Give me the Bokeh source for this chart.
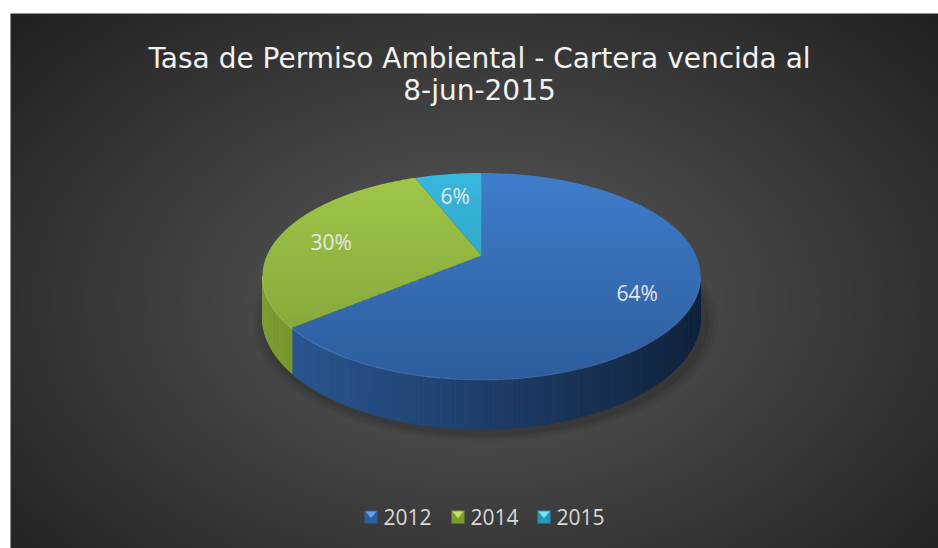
import numpy as np
from bokeh.plotting import figure
from bokeh.models import Range1d
from bokeh.core.properties import value
from bokeh.embed import file_html
from bokeh.resources import INLINE

# ---------------- data ----------------
title_lines = ["Tasa de Permiso Ambiental - Cartera vencida al", "8-jun-2015"]
categories = ["2012", "2014", "2015"]
shares = [64, 30, 6]
pct_labels = ["64%", "30%", "6%"]

# ---------------- styles ----------------
top_light = ["#3f7dcb", "#a0c749", "#37b8dd"]
top_dark = ["#2c5d9d", "#7e9f35", "#2790ae"]
side_light = ["#2c5a97", "#7f9e33", "#2a8fae"]
side_dark = ["#11233d", "#3e5216", "#123f4c"]
edge_hl = ["#5b93dc", "#b5d86a", "#6fd0ec"]
legend_light = ["#6aa2ea", "#c4e36e", "#7fe0f8"]
legend_dark = ["#2d5f9f", "#7c9c32", "#2897b6"]

W, H = 938, 548
p = figure(width=W, height=H, x_range=Range1d(0, W), y_range=Range1d(H, 0),
           x_axis_type=None, y_axis_type=None, output_backend="svg",
           toolbar_location=None, min_border=0)
p.outline_line_color = None
p.background_fill_color = "white"
p.border_fill_color = "white"


def hex2rgb(h):
    h = h.lstrip("#")
    return np.array([int(h[i:i + 2], 16) for i in (0, 2, 4)], dtype=float)


def mix(c1, c2, t):
    t = min(max(t, 0.0), 1.0)
    c = hex2rgb(c1) * (1 - t) + hex2rgb(c2) * t
    return "#%02x%02x%02x" % tuple(int(round(v)) for v in c)


# ---------------- background radial gradient ----------------
bx0, by0 = 10, 13
bw, bh = W - bx0, H - by0
yy, xx = np.mgrid[0:bh, 0:bw]
gcx, gcy = 478 - bx0, 300 - by0
r = np.sqrt(((xx - gcx) / 620.0) ** 2 + ((yy - gcy) / 410.0) ** 2)
v = np.clip(92 - 58 * r, 30, 95).astype(np.uint8)
img = np.empty((bh, bw), dtype=np.uint32)
view = img.view(dtype=np.uint8).reshape((bh, bw, 4))
view[..., 0] = v
view[..., 1] = v
view[..., 2] = v
view[..., 3] = 255
p.image_rgba(image=[img], x=bx0, y=by0, dw=bw, dh=bh)

# ---------------- 3D pie geometry ----------------
CX, CY = 481.0, 255.0
A, B, PC, HGT = 214.6, 99.0, 0.2, 40.0


def proj(theta_deg, rr=1.0, z=0.0):
    t = np.radians(theta_deg)
    X = rr * np.sin(t)
    D = -rr * np.cos(t)
    k = 1.0 / (1.0 - PC * D)
    return CX + A * X * k, CY + (B * D + z) * k


total = float(sum(shares))
starts, ends = [], []
acc = 0.0
for s in shares:
    starts.append(acc / total * 360.0)
    acc += s
    ends.append(acc / total * 360.0)

# visible front arc (silhouette at cos = -PC)
th_right = np.degrees(np.arccos(-PC))
th_left = 360.0 - th_right
x_min = proj(th_left)[0]
x_max = proj(th_right)[0]

# shadow
for sc, a in [(1.06, 0.05), (1.04, 0.07), (1.02, 0.09)]:
    ths = np.linspace(0, 360, 181)
    xs, ys = [], []
    for th in ths:
        x0, y0 = proj(th, 1.0, HGT)
        xs.append(CX + (x0 - CX) * sc + 4)
        ys.append(CY + HGT + (y0 - CY - HGT) * sc + 4)
    p.patch(xs, ys, fill_color="black", fill_alpha=a, line_color=None)

# side walls
side_xs, side_ys, side_cols = [], [], []
for i in range(len(shares)):
    a0 = max(starts[i], th_right)
    a1 = min(ends[i], th_left)
    if a1 <= a0:
        continue
    n = max(2, int((a1 - a0) / 1.0) + 1)
    ths = np.linspace(a0, a1, n)
    for j in range(n - 1):
        t0, t1 = ths[j], ths[j + 1]
        xa, ya = proj(t0)
        xb, yb = proj(t1)
        xc, yc = proj(t1, 1.0, HGT)
        xd, yd = proj(t0, 1.0, HGT)
        xm = 0.5 * (xa + xb)
        tt = (xm - x_min) / (x_max - x_min)
        side_xs.append([xa, xb, xc, xd])
        side_ys.append([ya, yb, yc, yd])
        side_cols.append(mix(side_light[i], side_dark[i], tt))
p.patches(side_xs, side_ys, fill_color=side_cols, line_color=side_cols, line_width=0.7)


# top faces with vertical gradient (clip into horizontal bands)
def clip_half(pts, keep, yc):
    out = []
    n = len(pts)
    for i in range(n):
        P = pts[i]
        Q = pts[(i + 1) % n]
        pin, qin = keep(P[1]), keep(Q[1])
        if pin:
            out.append(P)
        if pin != qin:
            t = (yc - P[1]) / (Q[1] - P[1])
            out.append((P[0] + t * (Q[0] - P[0]), yc))
    return out


ytop = proj(0)[1]
ybot = proj(180)[1]
band = 3.0
top_xs, top_ys, top_cols = [], [], []
for i in range(len(shares)):
    ths = np.linspace(starts[i], ends[i], max(3, int(ends[i] - starts[i]) + 2))
    poly = [(CX, CY)] + [proj(th) for th in ths]
    y = ytop - 1
    while y < ybot + 1:
        pts = clip_half(poly, lambda q, y0=y: q >= y0, y)
        if pts:
            pts = clip_half(pts, lambda q, y1=y + band + 0.6: q <= y1, y + band + 0.6)
        if len(pts) >= 3:
            tt = (y + band / 2 - ytop) / (ybot - ytop)
            top_xs.append([q[0] for q in pts])
            top_ys.append([q[1] for q in pts])
            top_cols.append(mix(top_light[i], top_dark[i], tt))
        y += band
p.patches(top_xs, top_ys, fill_color=top_cols, line_color=None)

# front edge highlight
for i in range(len(shares)):
    a0 = max(starts[i], th_right)
    a1 = min(ends[i], th_left)
    if a1 <= a0:
        continue
    ths = np.linspace(a0, a1, 60)
    pts = [proj(th) for th in ths]
    p.line([q[0] for q in pts], [q[1] + 0.5 for q in pts], line_color=edge_hl[i],
           line_alpha=0.5, line_width=1.2)

# percentage labels
lx, ly = [], []
for i in range(len(shares)):
    mid = 0.5 * (starts[i] + ends[i])
    x0, y0 = proj(mid, 0.75)
    lx.append(x0)
    ly.append(y0 + 4)
p.text(x=lx, y=ly, text=pct_labels, text_align="center", text_baseline="middle",
       text_font=value("Open Sans"), text_font_size="21px", text_color="#e6e6e6")

# title
p.text(x=[479, 479], y=[58, 90], text=title_lines, text_align="center",
       text_baseline="alphabetic", text_font=value("DejaVu Sans"),
       text_font_size="28px", text_color="#f2f2f2")

# legend
mk_x = [364, 451, 537]
mk_y = 510
mk = 13
p.quad(left=mk_x, right=[x + mk for x in mk_x], top=[mk_y] * 3, bottom=[mk_y + mk] * 3,
       fill_color=legend_dark, line_color=None)
p.patches([[x + 1, x + mk - 1, x + mk / 2] for x in mk_x],
          [[mk_y + 1, mk_y + 1, mk_y + mk * 0.6] for _ in mk_x],
          fill_color=legend_light, line_color=None)
p.text(x=[x + mk + 6 for x in mk_x], y=[mk_y + mk / 2] * 3, text=categories,
       text_align="left", text_baseline="middle", text_font=value("Open Sans"),
       text_font_size="21px", text_color="#d9d9d9")

open("out.html", "w").write(file_html(p, INLINE))
